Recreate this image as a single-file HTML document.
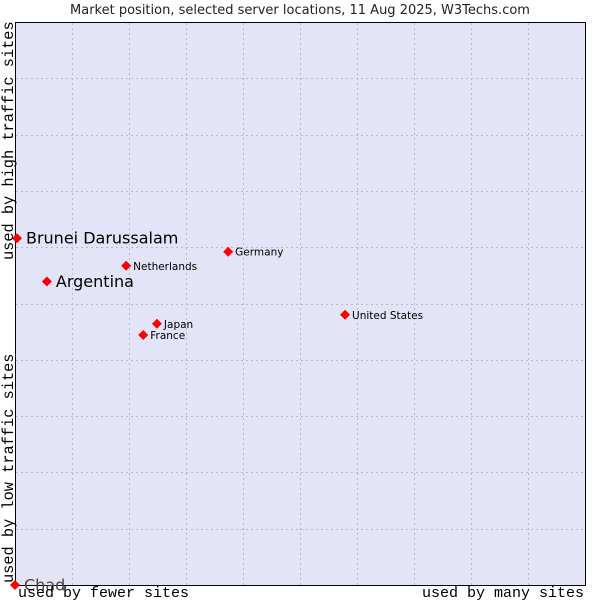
<!DOCTYPE html>
<html><head><meta charset="utf-8"><style>
body{margin:0;background:#fff;}
svg{display:block;font-family:"DejaVu Sans","Liberation Sans",sans-serif;}
.mono{font-family:"Liberation Mono","DejaVu Sans Mono",monospace;font-size:15px;}
.ymono{font-family:"Liberation Mono","DejaVu Sans Mono",monospace;font-size:15.3px;}
</style></head><body>
<svg id="chart" width="600" height="600">
<text x="300" y="14" text-anchor="middle" font-size="13" fill="#222">Market position, selected server locations, 11 Aug 2025, W3Techs.com</text>
<rect x="15.5" y="22.5" width="570" height="563" fill="#e4e4f8" stroke="#000"/>
<g id="grid"></g>
<g id="pts"></g>
<text class="mono" x="18" y="597">used by fewer sites</text>
<text class="mono" x="584" y="597" text-anchor="end">used by many sites</text>
<text class="ymono" transform="translate(13,583) rotate(-90)">used by low traffic sites</text>
<text class="ymono" transform="translate(13,260) rotate(-90)">used by high traffic sites</text>
</svg>
<script>
const countries=["Brunei Darussalam","Argentina","Netherlands","Germany","United States","Japan","France","Chad"];
const xVals=[0.35,5.6,19.5,37.4,57.9,24.9,22.5,0];
const yVals=[61.6,53.9,56.7,59.2,48.0,46.4,44.4,0];
const big=[true,true,false,false,false,false,false,true];
const NS="http://www.w3.org/2000/svg";
const X=v=>15+v/100*570, Y=v=>585-v/100*563;
const grid=document.getElementById('grid'), pts=document.getElementById('pts');
for(let i=1;i<10;i++){
  const l=document.createElementNS(NS,'line');
  
  
  l.setAttribute('x1',Math.round(X(i*10))+.5);l.setAttribute('x2',Math.round(X(i*10))+.5);l.setAttribute('y1',23);l.setAttribute('y2',585);
  l.setAttribute('stroke','#bbb');l.setAttribute('stroke-dasharray','2,3');grid.appendChild(l);
  const h=document.createElementNS(NS,'line');
  
  
  h.setAttribute('y1',Math.round(Y(i*10))+.5);h.setAttribute('y2',Math.round(Y(i*10))+.5);h.setAttribute('x1',16);h.setAttribute('x2',585);
  h.setAttribute('stroke','#bbb');h.setAttribute('stroke-dasharray','2,3');grid.appendChild(h);
}
countries.forEach((c,i)=>{
  const x=X(xVals[i]),y=Y(yVals[i]);
  const d=document.createElementNS(NS,'polygon');
  
  
  d.setAttribute('points',`${x},${y-5} ${x+5},${y} ${x},${y+5} ${x-5},${y}`);
  d.setAttribute('fill','#f00');pts.appendChild(d);
  const t=document.createElementNS(NS,'text');
  
  
  t.setAttribute('x',x+(big[i]?9:7));t.setAttribute('y',y+(big[i]?5.5:4));
  t.setAttribute('font-size',big[i]?16:10.5);
  t.setAttribute('fill',c==="Chad"?'#444':'#000');
  t.textContent=c;pts.appendChild(t);
});
</script>
</body></html>
